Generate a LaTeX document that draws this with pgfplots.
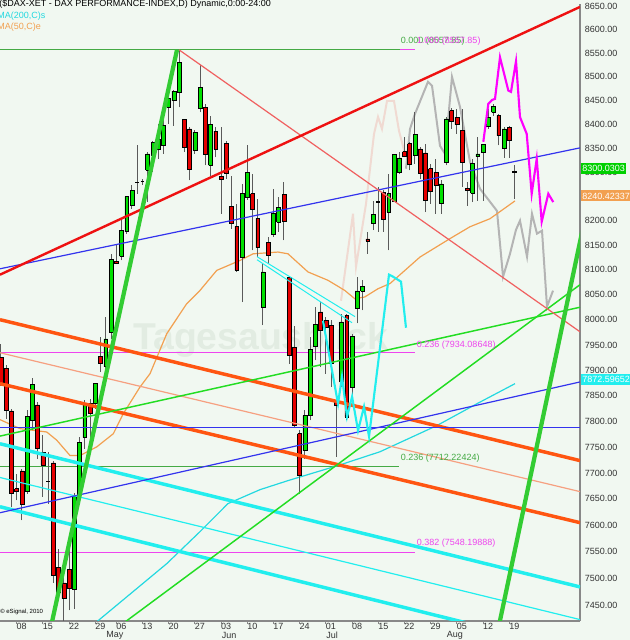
\documentclass[border=0pt]{standalone}
\usepackage{fontspec}
\setmainfont{Liberation Sans}
\usepackage{pgfplots}
\usepackage{pgfplotstable}
\pgfplotsset{compat=1.18}
\definecolor{bg}{HTML}{F1F8F1}
\definecolor{wm}{HTML}{E2ECE2}
\definecolor{upg}{HTML}{00E000}
\definecolor{dnr}{HTML}{E60000}
\definecolor{wickc}{HTML}{5A5A5A}
\definecolor{axgray}{HTML}{888888}
\definecolor{redthick}{HTML}{EE1111}
\definecolor{redthin}{HTML}{F06060}
\definecolor{bluel}{HTML}{3333EE}
\definecolor{fibgreen}{HTML}{44AA44}
\definecolor{fibmag}{HTML}{EE44EE}
\definecolor{orthick}{HTML}{FF5511}
\definecolor{orthin}{HTML}{F6A080}
\definecolor{cyanl}{HTML}{22EEEE}
\definecolor{ma200c}{HTML}{22D8E0}
\definecolor{ma50c}{HTML}{F2A050}
\definecolor{gthick}{HTML}{33CC33}
\definecolor{gthin}{HTML}{22DD22}
\definecolor{grayp}{HTML}{B4B4B4}
\definecolor{pinkp}{HTML}{F0DAD2}
\definecolor{magp}{HTML}{FF00FF}
\definecolor{boxgreen}{HTML}{00D000}
\definecolor{boxcyan}{HTML}{22EEEE}
\newcommand{\tf}{\fontsize{6.75pt}{8pt}\selectfont}

\pgfplotstableread{
d o h l c
-3 7925.2 7951.6 7868.8 7872.7
-2 7902.2 7908.7 7804.2 7820.3
-1 7819.1 7823.6 7634.0 7660.7
0 7669.0 7697.8 7646.5 7663.8
1 7703.0 7707.4 7608.5 7638.9
2 7664.6 7821.6 7659.4 7808.6
3 7801.0 7884.5 7781.6 7870.7
4 7831.4 7836.6 7726.6 7745.9
5 7739.5 7771.9 7653.1 7713.7
6 7682.4 7739.5 7640.2 7682.4
7 7718.4 7722.2 7491.1 7504.8
8 7520.5 7554.9 7458.0 7473.7
9 7490.6 7528.0 7418.0 7461.2
10 7515.5 7554.9 7439.3 7479.9
11 7478.0 7661.3 7442.4 7656.2
12 7657.6 7768.8 7646.5 7758.9
13 7767.4 7839.8 7745.9 7833.3
14 7834.7 7843.2 7769.4 7815.2
15 7834.7 7874.1 7823.6 7872.7
16 7926.4 7966.0 7895.7 7913.4
17 7906.0 8004.8 7896.3 7961.4
18 7974.9 8132.2 7961.4 8120.1
19 8117.5 8149.2 8112.0 8112.0
20 8126.8 8203.7 8118.7 8180.2
21 8176.9 8251.4 8173.3 8249.4
22 8230.8 8272.1 8224.2 8261.8
23 8279.1 8355.5 8254.9 8279.1
24 8281.0 8286.0 8274.0 8281.0
25 8303.2 8341.2 8237.8 8337.7
26 8334.2 8365.4 8299.9 8362.0
27 8348.1 8400.5 8327.4 8369.0
28 8355.5 8407.5 8337.7 8396.9
29 8435.5 8455.9 8400.5 8453.8
30 8449.0 8472.6 8396.9 8469.3
31 8466.0 8557.1 8435.5 8530.9
32 8409.0 8411.0 8341.2 8352.2
33 8390.0 8393.6 8282.4 8304.6
34 8346.0 8386.5 8337.7 8383.1
35 8434.0 8525.8 8424.9 8477.5
36 8435.5 8442.4 8313.6 8336.2
37 8313.6 8417.9 8292.8 8399.0
38 8385.2 8393.6 8330.8 8348.1
39 8290.7 8393.6 8213.9 8285.9
40 8359.0 8365.4 8285.9 8296.4
41 8228.8 8292.8 8183.5 8193.5
42 8188.1 8234.3 8096.0 8098.6
43 8125.5 8275.6 8034.7 8254.9
44 8248.2 8355.5 8242.5 8300.0
45 8254.9 8296.4 8139.0 8224.2
46 8203.7 8244.6 8125.5 8144.6
47 8024.7 8113.5 7988.7 8095.4
48 8156.1 8166.3 8112.0 8128.9
49 8171.2 8265.3 8166.3 8215.3
50 8196.9 8248.2 8176.9 8227.6
51 8253.4 8279.1 8159.4 8198.1
52 8083.8 8083.8 7912.0 7928.4
53 7945.0 7986.5 7788.1 7791.2
54 7775.0 7781.4 7659.4 7694.5
55 7742.5 7820.3 7726.6 7810.5
56 7810.5 7964.8 7801.0 7940.1
57 7946.2 8024.7 7918.5 7990.5
58 8014.8 8034.7 7905.5 7978.5
59 7998.2 8004.8 7892.3 7985.3
60 7988.6 7998.2 7866.2 7912.0
61 7839.8 7846.5 7729.8 7830.0
62 7876.0 8011.4 7866.2 7995.1
63 8008.0 8011.4 7801.0 7807.4
64 7866.2 7971.4 7849.6 7966.0
65 8021.3 8085.2 7992.0 8056.9
66 8056.9 8079.8 8018.0 8066.1
67 8162.4 8176.9 8132.2 8158.3
68 8193.5 8241.1 8180.2 8212.4
69 8237.8 8268.8 8176.9 8237.8
70 8258.4 8261.8 8176.9 8201.6
71 8217.4 8296.4 8139.0 8254.9
72 8239.9 8337.7 8237.8 8336.2
73 8299.9 8341.2 8296.4 8329.4
74 8342.5 8372.5 8330.8 8332.1
75 8359.0 8363.2 8303.2 8315.1
76 8335.6 8424.9 8317.2 8378.0
77 8348.1 8352.2 8285.9 8297.8
78 8339.8 8359.0 8217.4 8242.5
79 8306.7 8317.2 8234.3 8260.6
80 8299.9 8327.4 8213.9 8272.1
81 8235.8 8282.4 8213.9 8275.6
82 8320.7 8414.5 8313.6 8411.0
83 8428.2 8434.0 8390.0 8406.2
84 8414.5 8432.1 8379.5 8399.0
85 8386.5 8432.1 8268.8 8320.7
86 8265.3 8279.1 8230.8 8261.8
87 8256.5 8327.4 8237.8 8317.2
88 8332.1 8372.5 8241.1 8337.7
89 8341.2 8359.0 8241.1 8357.6
90 8394.8 8432.1 8390.0 8414.5
91 8424.9 8442.4 8417.0 8436.7
92 8417.9 8421.4 8355.5 8376.0
93 8350.1 8393.6 8329.4 8390.0
94 8393.6 8394.8 8329.4 8365.4
95 8301.5 8315.0 8244.6 8300.0
}\ohlc

\begin{document}
\begin{tikzpicture}[x=0.75pt,y=0.75pt]
\fill[bg] (0,0) rectangle (630,640);
\useasboundingbox (0,0) rectangle (630,640);
\node[anchor=base west, inner sep=0pt, text=wm, font=\bfseries\fontsize{28pt}{28pt}\selectfont] at (133,290) {Tagesausblick};
\begin{axis}[
  at={(0,47.5)}, anchor=south west,
  width=435pt, height=462.75pt, scale only axis,
  y coord trafo/.code={\pgfmathparse{1000*ln(#1/8000)}},
  y coord inv trafo/.code={\pgfmathparse{8000*exp(#1/1000)}},
  xmin=-3.19, xmax=107.5, ymin=7420.3, ymax=8655.8,
  axis x line*=bottom, axis y line*=right,
  axis line style={axgray, line width=0.9pt},
  xtick={0,5,10,15,19,24,29,34,39,44,49,54,59,64,69,74,79,84,89,94},
  xticklabels={08,15,22,29,06,13,20,27,03,10,17,24,01,08,15,22,29,05,12,19},
  ytick={7450,7500,7550,7600,7650,7700,7750,7800,7850,7900,7950,8000,8050,8100,8150,8200,8250,8300,8350,8400,8450,8500,8550,8600,8650},
  yticklabels={7450.00,7500.00,7550.00,7600.00,7650.00,7700.00,7750.00,7800.00,7850.00,7900.00,7950.00,8000.00,8050.00,8100.00,8150.00,8200.00,8250.00,8300.00,8350.00,8400.00,8450.00,8500.00,8550.00,8600.00,8650.00},
  yminorticks=false, xminorticks=false,
  tick align=outside, major tick length=2.25pt,
  xtick style={draw=axgray, line width=0.75pt},
  ytick style={draw=none},
  xticklabel style={font=\tf, text=black!80, inner sep=0pt, xshift=3.75pt, yshift=0.8pt},
  yticklabel style={font=\tf, text=black!80, inner sep=0pt, anchor=west, xshift=1.2pt},
  wick/.style={draw=wickc, line width=0.75pt},
  upc/.style={fill=upg, draw=black, line width=0.45pt},
  dnc/.style={fill=dnr, draw=black, line width=0.45pt},
  doji/.style={draw=black, line width=0.9pt},
]
% Fibonacci levels
\addplot[fibgreen, line width=0.9pt] coordinates {(-3.19,8557.85) (73.15,8557.85)};
\addplot[fibmag, line width=0.9pt] coordinates {(73.15,8557.85) (76.0,8557.85)};
\addplot[fibmag, line width=0.9pt] coordinates {(-3.19,7934.09) (76.0,7934.09)};
\addplot[fibgreen, line width=0.9pt] coordinates {(-3.19,7712.22) (72.96,7712.22)};
\addplot[fibmag, line width=0.9pt] coordinates {(-3.19,7548.20) (76.0,7548.20)};
% projections
\addplot[pinkp, line width=1.5pt] coordinates {(61.89,8037.3) (64.18,8213.9) (64.75,8105.9) (66.66,8234.3) (68.19,8379.6) (68.95,8415.2) (69.71,8390.0) (70.67,8448.8) (72.0,8448.8) (72.96,8385.9) (74.1,8337.7)};
\addplot[grayp, line width=1.5pt] coordinates {(74.29,8306.7) (75.06,8390.0) (76.01,8421.5) (78.49,8489.1) (79.26,8480.6) (80.78,8354.5) (81.74,8337.7) (83.07,8499.7) (84.6,8436.1) (86.51,8321.2) (88.42,8265.3) (91.66,8219.8) (92.81,8085.8) (94.14,8132.2) (95.29,8181.2) (96.05,8199.6) (97.39,8126.1) (98.34,8213.9) (99.29,8173.1) (100.25,8179.2) (101.2,8025.3) (102.35,8057.5)};
% moving averages
\addplot[ma50c, line width=0.9pt] coordinates {(-3.19,7802.2) (0.63,7784.8) (5.73,7778.4) (7.63,7762.4) (10.17,7732.9) (12.08,7732.9) (15.27,7749.2) (18.44,7775.0) (20.34,7813.9) (23.53,7866.2) (25.44,7892.3) (28.63,7971.5) (32.44,8031.3) (34.98,8058.1) (38.17,8098.6) (42.62,8118.7) (45.10,8132.2) (49.87,8135.7) (51.77,8132.2) (55.59,8095.4) (59.41,8078.4) (62.60,8058.1) (64.50,8041.4) (66.41,8044.8) (68.95,8061.6) (71.24,8071.7) (76.97,8125.5) (82.69,8163.1) (86.51,8187.2) (90.32,8203.7) (95.09,8240.4)};
\addplot[ma200c, line width=0.9pt] coordinates {(13.68,7405.4) (28.63,7526.7) (34.98,7587.1) (40.32,7640.2) (46.43,7667.1) (51.77,7684.4) (61.32,7713.4) (69.33,7740.0) (80.21,7791.0) (87.84,7833.3) (95.09,7872.6)};
% candles
\pgfplotstablegetrowsof{\ohlc}
\pgfmathtruncatemacro{\lastrow}{\pgfplotsretval-1}
\pgfplotsforeachungrouped \r in {0,...,\lastrow}{%
  \pgfplotstablegetelem{\r}{d}\of{\ohlc}\let\kD\pgfplotsretval
  \pgfplotstablegetelem{\r}{o}\of{\ohlc}\let\kO\pgfplotsretval
  \pgfplotstablegetelem{\r}{h}\of{\ohlc}\let\kH\pgfplotsretval
  \pgfplotstablegetelem{\r}{l}\of{\ohlc}\let\kL\pgfplotsretval
  \pgfplotstablegetelem{\r}{c}\of{\ohlc}\let\kC\pgfplotsretval
  \pgfmathsetmacro{\kA}{\kD-0.37}%
  \pgfmathsetmacro{\kB}{\kD+0.37}%
  \pgfmathtruncatemacro{\kT}{\kC>\kO ? 1 : (\kC<\kO ? 2 : 0)}%
  \ifcase\kT
    \edef\tmp{\noexpand\addplot[wick] coordinates {(\kD,\kL) (\kD,\kH)}; \noexpand\addplot[doji] coordinates {(\kA,\kO) (\kB,\kO)};}%
  \or
    \edef\tmp{\noexpand\addplot[wick] coordinates {(\kD,\kL) (\kD,\kH)}; \noexpand\addplot[upc] coordinates {(\kA,\kO) (\kB,\kO) (\kB,\kC) (\kA,\kC) (\kA,\kO)};}%
  \or
    \edef\tmp{\noexpand\addplot[wick] coordinates {(\kD,\kL) (\kD,\kH)}; \noexpand\addplot[dnc] coordinates {(\kA,\kO) (\kB,\kO) (\kB,\kC) (\kA,\kC) (\kA,\kO)};}%
  \fi
  \tmp
}
% trend lines
\addplot[orthin, line width=0.9pt] coordinates {(-3.19,7933.7) (107.5,7663.2)};
\addplot[orthick, line width=2.6pt] coordinates {(-3.19,7999.4) (107.5,7722.8)};
\addplot[orthick, line width=2.6pt] coordinates {(-3.19,7872.7) (107.5,7604.2)};
\addplot[cyanl, line width=0.9pt] coordinates {(-3.19,7690.1) (107.5,7422.2)};
\addplot[cyanl, line width=2.6pt] coordinates {(-3.19,7755.6) (107.5,7483.1)};
\addplot[cyanl, line width=2.6pt] coordinates {(-3.19,7634.5) (88.4,7410.1)};
\addplot[bluel, line width=0.9pt] coordinates {(-3.19,8101.9) (107.5,8350.3)};
\addplot[bluel, line width=0.9pt] coordinates {(-3.19,7623.1) (107.5,7876.0)};
\addplot[bluel, line width=0.9pt] coordinates {(-3.19,7786.7) (107.5,7786.7)};
\addplot[gthin, line width=1.1pt] coordinates {(-3.19,7770.2) (107.5,8024.3)};
\addplot[gthin, line width=1.1pt] coordinates {(17.65,7396.1) (107.5,8069.6)};
\addplot[cyanl, line width=0.75pt] coordinates {(45.86,8126.1) (64.56,8005.4)};
\addplot[cyanl, line width=0.75pt] coordinates {(45.86,8120.1) (63.99,7993.4)};
\addplot[redthin, line width=0.9pt] coordinates {(31,8557) (107.5,7975.5)};
\addplot[redthick, line width=1.8pt] coordinates {(-3.19,8089.8) (107.5,8649.4)};
\addplot[gthick, line width=3.2pt] coordinates {(6.24,7396.1) (30.59,8557.1)};
\addplot[gthick, line width=3.2pt] coordinates {(91.7,7396.1) (109.4,8252.9)};
% projected paths
\addplot[cyanl, line width=1.6pt] coordinates {(58.45,7997.4) (61.32,7833.3) (62.08,7886.4) (63.04,7808.1) (64.0,7847.1) (65.14,7780.9) (66.28,7827.5) (67.24,7769.3) (71.05,8089.8) (71.81,8085.8) (73.34,8075.7) (74.29,7983.5)};
\addplot[magp, line width=1.6pt] coordinates {(89.05,8362.8) (90.0,8442.4) (90.71,8450.9) (91.28,8453.0) (92.23,8541.5) (93.82,8470.6) (94.33,8467.9) (95.29,8533.0) (96.05,8414.6) (97.33,8379.6) (98.28,8255.0) (99.24,8327.4) (100.19,8197.5) (101.45,8255.0) (102.40,8237.8)};
\end{axis}
% Fibonacci labels
\node[anchor=base west, inner sep=0pt, font=\tf, text=fibgreen, yshift=1.6pt] at (400.7,594) {0.000 (8557.85)};
\node[anchor=base west, inner sep=0pt, font=\tf, text=fibmag, yshift=1.6pt] at (416.7,594) {1.000 (8557.85)};
\node[anchor=base west, inner sep=0pt, font=\tf, text=fibmag, yshift=1.6pt] at (416.7,290.7) {0.236 (7934.08648)};
\node[anchor=base west, inner sep=0pt, font=\tf, text=fibgreen, yshift=1.6pt] at (400.7,177.4) {0.236 (7712.22424)};
\node[anchor=base west, inner sep=0pt, font=\tf, text=fibmag, yshift=1.6pt] at (416.5,92) {0.382 (7548.19888)};
% texts outside the plot
\node[anchor=west, inner sep=0pt, font=\tf] at (-1,635.5) {(\$DAX-XET - DAX PERFORMANCE-INDEX,D) Dynamic,0:00-24:00};
\node[anchor=west, inner sep=0pt, font=\tf, text=ma200c] at (-3,624) {MA(200,C)s};
\node[anchor=west, inner sep=0pt, font=\tf, text=ma50c] at (-3,613.3) {MA(50,C)e};
\node[anchor=west, inner sep=0pt, font=\fontsize{4.5pt}{5pt}\selectfont] at (0,28) {\textcopyright{} eSignal, 2010};
\node[anchor=west, fill=boxgreen, text=white, font=\tf, inner xsep=1pt, inner ysep=0pt, minimum height=8.25pt] at (580.8,471.3) {8300.0303};
\node[anchor=west, fill=ma50c, text=white, font=\tf, inner xsep=1pt, inner ysep=0pt, minimum height=8.25pt] at (580.8,444) {8240.42337};
\node[anchor=west, fill=boxcyan, text=white, font=\tf, inner xsep=1pt, inner ysep=0pt, minimum height=8.25pt] at (580.8,260.7) {7872.59652};
\node[anchor=west, inner sep=0pt, font=\tf, text=black!80] at (106,5) {May};
\node[anchor=west, inner sep=0pt, font=\tf, text=black!80] at (221.7,5) {Jun};
\node[anchor=west, inner sep=0pt, font=\tf, text=black!80] at (326,5) {Jul};
\node[anchor=west, inner sep=0pt, font=\tf, text=black!80] at (446.7,5) {Aug};
\end{tikzpicture}
\end{document}
